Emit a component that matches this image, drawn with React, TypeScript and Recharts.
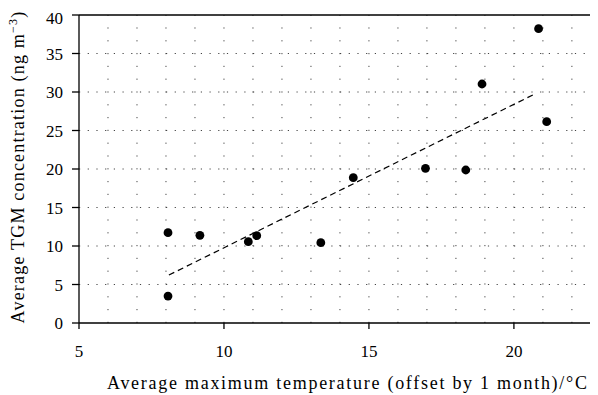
import { CartesianGrid, ReferenceLine, Scatter, ScatterChart, XAxis, YAxis } from 'recharts';

// monthly averages
const temperature = [8.07, 9.17, 10.84, 11.13, 8.07, 13.34, 14.46, 16.95, 18.34, 18.9, 20.85, 21.13];
const tgm = [11.73, 11.39, 10.56, 11.34, 3.5, 10.43, 18.87, 20.09, 19.87, 31.04, 38.22, 26.15];

// fitted trend line end points
const trendX = [8.1, 20.72];
const trendY = [6.23, 29.74];

const xTicks = [5, 10, 15, 20];
const yTicks = [0, 5, 10, 15, 20, 25, 30, 35, 40];
const xGrid = [6, 7, 8, 9, 10, 11, 12, 13, 14, 15, 16, 17, 18, 19, 20, 21, 22];
const yGrid = [5, 10, 15, 20, 25, 30, 35];

const points = temperature.map((t, i) => ({ t, c: tgm[i] }));
const FONT = '"Liberation Serif", "DejaVu Serif", serif';

function YLabel() {
  const cy = 159;
  return (
    <text
      x={16}
      y={cy}
      transform={`rotate(-90, 16, ${cy})`}
      textAnchor="middle"
      fontFamily={FONT}
      fontSize={18}
      fill="#000"
      style={{ letterSpacing: 1.2 }}
    >
      Average TGM concentration (ng m
      <tspan fontSize={12} dy={-7}>−3</tspan>
      <tspan dy={7}>)</tspan>
    </text>
  );
}

function XLabel() {
  return (
    <text
      x={339}
      y={381}
      textAnchor="middle"
      fontFamily={FONT}
      fontSize={18}
      fill="#000"
      textLength={480}
      lengthAdjust="spacing"
    >
      Average maximum temperature (offset by 1 month)/°C
    </text>
  );
}

export default function App() {
  return (
    <div style={{ width: 590, height: 386 }}>
      <ScatterChart width={590} height={386} margin={{ top: 7, right: 0, bottom: 0, left: 0 }}>
        <CartesianGrid stroke="none" />
        {xGrid.map((v) => (
          <ReferenceLine key={`x${v}`} x={v} stroke="#444" strokeWidth={1} strokeDasharray="1.2 11.6" />
        ))}
        {yGrid.map((v) => (
          <ReferenceLine key={`y${v}`} y={v} stroke="#444" strokeWidth={1} strokeDasharray="1.2 7.5" />
        ))}
        <ReferenceLine y={40} stroke="#000" strokeWidth={1.3} />
        <XAxis
          type="number"
          dataKey="t"
          domain={[5, 22.9]}
          allowDataOverflow
          ticks={xTicks}
          height={71}
          tickSize={6}
          tickMargin={16}
          stroke="#000"
          strokeWidth={1.3}
          tick={{ fill: '#000', fontFamily: FONT, fontSize: 17 }}
          label={<XLabel />}
        />
        <YAxis
          type="number"
          dataKey="c"
          domain={[0, 40]}
          ticks={yTicks}
          width={71}
          tickSize={7}
          tickMargin={9}
          stroke="#000"
          strokeWidth={1.3}
          tick={{ fill: '#000', fontFamily: FONT, fontSize: 17 }}
          label={<YLabel />}
        />
        <ReferenceLine
          segment={[
            { x: trendX[0], y: trendY[0] },
            { x: trendX[1], y: trendY[1] },
          ]}
          stroke="#000"
          strokeWidth={1.2}
          strokeDasharray="6 4"
        />
        <Scatter
          data={points}
          fill="#000"
          isAnimationActive={false}
          shape={(p: any) => <circle cx={p.cx} cy={p.cy} r={4.4} fill="#000" />}
        />
      </ScatterChart>
    </div>
  );
}
